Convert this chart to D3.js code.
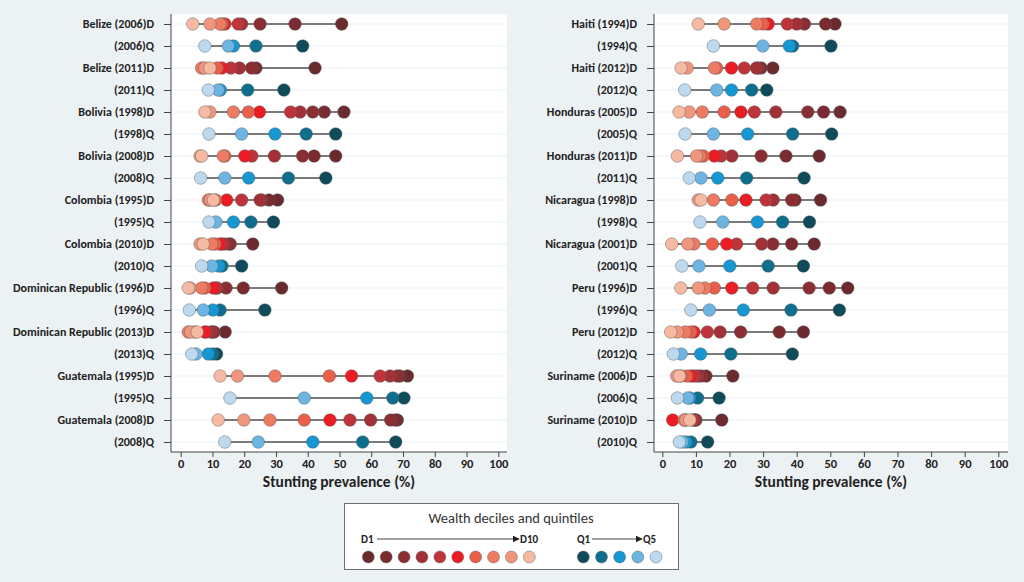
<!DOCTYPE html>
<html><head><meta charset="utf-8">
<script src="https://cdn.jsdelivr.net/npm/d3@7"></script>
<style>
html,body{margin:0;padding:0;background:#ECF1F4;}
svg{display:block;font-family:Carlito,Lato,"Open Sans",sans-serif;}
</style></head>
<body><svg id="chart" width="1024" height="582"></svg>
<script>
// ---------- data ----------
const xTicks = [0,10,20,30,40,50,60,70,80,90,100];
const decileNames = ["D1","D2","D3","D4","D5","D6","D7","D8","D9","D10"];
const quintileNames = ["Q1","Q2","Q3","Q4","Q5"];
const decileColors = ["#6b2a2e","#7a2b30","#8b2e33","#a13136","#bf343a","#ec1c24","#e95f49","#ec7b62","#f0967d","#f6b9a2"];
const quintileColors = ["#0f4b5b","#0e6e8d","#1597d3","#6cb5e3","#bdd9f0"];

const leftSurveys = ["Belize (2006)","Belize (2011)","Bolivia (1998)","Bolivia (2008)","Colombia (1995)","Colombia (2010)","Dominican Republic (1996)","Dominican Republic (2013)","Guatemala (1995)","Guatemala (2008)"];
const leftDeciles = [
  [50.7,36.0,25.0,19.2,18.1,13.9,13.0,12.4,9.2,3.8],
  [42.3,23.7,22.3,18.5,15.8,12.9,11.5,6.6,7.6,9.2],
  [51.4,45.2,41.6,37.6,34.6,24.8,21.3,16.6,9.2,7.6],
  [48.8,42.0,38.4,29.5,22.4,20.2,13.9,13.4,6.1,6.6],
  [30.5,27.8,25.5,25.0,19.2,14.5,11.0,8.7,9.4,10.3],
  [22.7,15.6,15.3,13.8,12.9,12.4,10.8,9.8,6.1,7.1],
  [31.8,19.7,14.3,11.5,11.0,10.3,7.6,6.6,3.0,2.4],
  [14.0,10.5,10.1,9.5,8.0,7.6,4.5,2.4,3.1,5.2],
  [71.4,69.0,68.2,65.9,62.8,53.8,46.8,29.7,17.9,12.4],
  [68.2,67.5,66.1,59.8,53.3,47.0,38.9,28.1,19.9,11.8]
];
const leftQuintiles = [
  [38.4,23.7,16.6,15.0,7.6],
  [32.5,21.1,12.5,11.8,8.7],
  [48.8,39.5,29.7,19.2,8.9],
  [45.7,33.9,21.4,13.9,6.3],
  [29.2,22.1,16.6,11.1,8.9],
  [19.2,13.0,12.0,9.8,6.6],
  [26.5,12.4,10.1,7.1,2.7],
  [11.3,10.0,8.7,4.8,3.5],
  [70.3,66.8,58.6,38.9,15.5],
  [67.7,57.3,41.6,24.4,13.9]
];

const rightSurveys = ["Haiti (1994)","Haiti (2012)","Honduras (2005)","Honduras (2011)","Nicaragua (1998)","Nicaragua (2001)","Peru (1996)","Peru (2012)","Suriname (2006)","Suriname (2010)"];
const rightDeciles = [
  [51.4,48.6,42.3,40.0,37.2,31.5,30.0,28.1,18.4,10.7],
  [32.9,29.4,28.5,28.0,24.4,20.6,16.2,15.5,7.4,5.6],
  [52.9,48.0,43.3,33.8,27.4,23.4,18.4,11.9,8.0,5.0],
  [46.7,36.8,29.4,20.7,17.5,15.5,12.2,11.2,10.2,4.5],
  [47.1,39.5,38.5,33.0,30.9,24.9,20.7,15.2,10.7,11.5],
  [45.2,38.5,32.9,29.6,22.1,19.2,14.9,9.4,7.6,2.8],
  [55.2,49.7,43.7,33.0,26.9,20.7,15.5,12.7,10.7,5.5],
  [42.0,34.8,23.3,17.2,13.4,9.4,8.5,6.8,4.5,2.5],
  [21.0,13.0,11.5,10.5,9.5,8.5,7.3,5.5,4.3,5.1],
  [17.7,10.0,9.9,9.5,9.0,3.1,6.8,6.5,7.0,8.2]
];
const rightQuintiles = [
  [50.2,38.8,37.8,29.9,15.2],
  [31.1,26.6,20.6,16.2,6.7],
  [50.4,38.8,25.4,15.2,6.8],
  [42.2,25.1,16.5,11.5,8.0],
  [43.8,35.8,28.3,18.0,11.2],
  [42.0,31.5,20.1,10.9,5.8],
  [52.7,38.3,24.1,14.0,8.5],
  [38.7,20.4,11.4,5.6,3.3],
  [16.9,10.5,8.2,7.6,4.5],
  [13.5,8.5,7.05,6.0,5.1]
];

// ---------- drawing ----------
const svg = d3.select("#chart");
const R = 6.3;

function buildRows(surveys, deciles, quintiles){
  const rows = [];
  surveys.forEach((s,i)=>{
    const year = s.slice(s.indexOf("("));
    rows.push({key:s+"D", label:s+"D", vals:deciles[i], colors:decileColors});
    rows.push({key:s+"Q", label:year+"Q", vals:quintiles[i], colors:quintileColors});
  });
  return rows;
}

function panel(cfg){
  const rows = buildRows(cfg.surveys, cfg.deciles, cfg.quintiles);
  const x = d3.scaleLinear().domain([0,100]).range([cfg.x0, cfg.x100]);
  const y = d3.scalePoint().domain(rows.map(r=>r.key)).range([24,442]);
  const g = svg.append("g");
  g.append("rect").attr("x",cfg.left).attr("y",14).attr("width",cfg.right-cfg.left).attr("height",452-14).attr("fill","#fff");
  g.selectAll(".grid").data(rows).join("line")
    .attr("x1",cfg.left).attr("x2",cfg.right)
    .attr("y1",d=>y(d.key)).attr("y2",d=>y(d.key))
    .attr("stroke","#edf0f3").attr("stroke-width",1.2);
  g.selectAll(".rng").data(rows).join("line")
    .attr("x1",d=>x(d3.min(d.vals))).attr("x2",d=>x(d3.max(d.vals)))
    .attr("y1",d=>y(d.key)).attr("y2",d=>y(d.key))
    .attr("stroke","#505050").attr("stroke-width",1.6);
  rows.forEach(r=>{
    g.selectAll(null).data(r.vals.map((v,j)=>({v,c:r.colors[j]}))).join("circle")
      .attr("cx",d=>x(d.v)).attr("cy",y(r.key)).attr("r",R)
      .attr("fill",d=>d.c).attr("stroke","#5a5a5a").attr("stroke-opacity",0.55).attr("stroke-width",0.8);
  });
  const xa = g.append("g").attr("transform",`translate(0,452)`)
    .call(d3.axisBottom(x).tickValues(xTicks).tickSize(5).tickPadding(2).tickSizeOuter(0));
  xa.select(".domain").attr("d",`M${cfg.left},0H${cfg.right}`).attr("stroke","#444");
  xa.selectAll(".tick line").attr("stroke","#444");
  xa.selectAll(".tick text").attr("font-size",12.5).attr("font-weight","bold").attr("fill","#222")
    .attr("font-family","Carlito,Lato,sans-serif");
  const ya = g.append("g").attr("transform",`translate(${cfg.left},0)`)
    .call(d3.axisLeft(y).tickSize(7).tickPadding(10).tickFormat(k=>rows.find(r=>r.key===k).label));
  ya.select(".domain").attr("d",`M0,14V452`).attr("stroke","#444");
  ya.selectAll(".tick line").attr("stroke","#444");
  ya.selectAll(".tick text").attr("font-size",12).attr("font-weight","bold").attr("fill","#222")
    .attr("font-family","Carlito,Lato,sans-serif");
  g.append("text").attr("x",(cfg.left+cfg.right)/2).attr("y",487).attr("text-anchor","middle")
    .attr("font-size",15.5).attr("font-weight","bold").attr("fill","#222").text("Stunting prevalence (%)");
}

panel({surveys:leftSurveys, deciles:leftDeciles, quintiles:leftQuintiles, left:171, right:507, x0:180.7, x100:498.3});
panel({surveys:rightSurveys, deciles:rightDeciles, quintiles:rightQuintiles, left:654, right:1008, x0:662.3, x100:998.3});

// ---------- legend ----------
const lg = svg.append("g");
lg.append("rect").attr("x",344.5).attr("y",503.5).attr("width",334).attr("height",66)
  .attr("fill","#fff").attr("stroke","#6e6e6e").attr("stroke-width",1);
lg.append("text").attr("x",511).attr("y",523).attr("text-anchor","middle").attr("font-size",14.5)
  .attr("fill","#333").attr("font-family","Carlito,Lato,sans-serif").text("Wealth deciles and quintiles");
svg.append("defs").append("marker").attr("id","arr").attr("viewBox","0 0 10 10").attr("refX",9).attr("refY",5)
  .attr("markerWidth",7).attr("markerHeight",7).attr("markerUnits","userSpaceOnUse").attr("orient","auto")
  .append("path").attr("d","M0,0L10,5L0,10Z").attr("fill","#222");
const lx = d3.scaleLinear().domain([0,9]).range([368.3,529.3]);
const qx = d3.scaleLinear().domain([0,4]).range([583.3,656]);
lg.append("text").attr("x",361).attr("y",543).attr("font-size",11).attr("font-weight","bold").attr("fill","#222").text(decileNames[0]);
lg.append("line").attr("x1",377).attr("x2",519).attr("y1",539).attr("y2",539).attr("stroke","#444").attr("stroke-width",1).attr("marker-end","url(#arr)");
lg.append("text").attr("x",520).attr("y",543).attr("font-size",11).attr("font-weight","bold").attr("fill","#222").text(decileNames[9]);
lg.append("text").attr("x",577).attr("y",543).attr("font-size",11).attr("font-weight","bold").attr("fill","#222").text(quintileNames[0]);
lg.append("line").attr("x1",592).attr("x2",642).attr("y1",539).attr("y2",539).attr("stroke","#444").attr("stroke-width",1).attr("marker-end","url(#arr)");
lg.append("text").attr("x",643).attr("y",543).attr("font-size",11).attr("font-weight","bold").attr("fill","#222").text(quintileNames[4]);
lg.selectAll(".ld").data(decileColors).join("circle").attr("cx",(d,i)=>lx(i)).attr("cy",557).attr("r",6)
  .attr("fill",d=>d).attr("stroke","#5a5a5a").attr("stroke-opacity",0.55).attr("stroke-width",0.8);
lg.selectAll(".lq").data(quintileColors).join("circle").attr("cx",(d,i)=>qx(i)).attr("cy",557).attr("r",6)
  .attr("fill",d=>d).attr("stroke","#5a5a5a").attr("stroke-opacity",0.55).attr("stroke-width",0.8);
</script></body></html>
